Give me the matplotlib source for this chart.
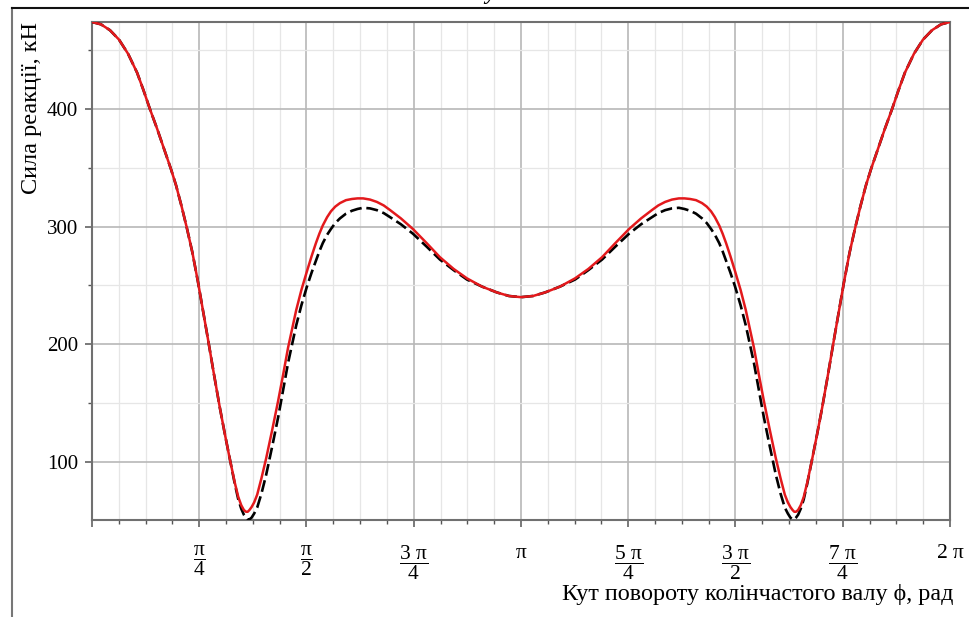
import numpy as np
import matplotlib
matplotlib.use("Agg")
import matplotlib.pyplot as plt
from matplotlib.ticker import FixedLocator, FixedFormatter
from matplotlib.lines import Line2D

plt.rcParams['font.family'] = ['Liberation Serif', 'DejaVu Serif']
plt.rcParams['mathtext.fontset'] = 'custom'
plt.rcParams['mathtext.rm'] = 'Liberation Serif'
plt.rcParams['mathtext.it'] = 'Liberation Serif'

# angle in units of pi
phi_over_pi = [0.000, 0.021, 0.042, 0.063, 0.084, 0.105, 0.120, 0.135, 0.152, 0.170,
               0.184, 0.196, 0.209, 0.221, 0.234, 0.247, 0.258, 0.270, 0.284, 0.298,
               0.310, 0.322, 0.333, 0.341, 0.348, 0.354, 0.359, 0.363, 0.367, 0.372,
               0.378, 0.385, 0.395, 0.406, 0.420, 0.434, 0.446, 0.457, 0.467, 0.476,
               0.488, 0.501, 0.512, 0.522, 0.530, 0.538, 0.548, 0.557, 0.567, 0.578,
               0.592, 0.606, 0.619, 0.632, 0.648, 0.664, 0.680, 0.695, 0.720, 0.748,
               0.780, 0.811, 0.843, 0.874, 0.909, 0.944, 0.972, 1.000,
               1.028, 1.056, 1.091, 1.126, 1.157, 1.189, 1.220, 1.252, 1.280, 1.305,
               1.320, 1.336, 1.352, 1.368, 1.381, 1.394, 1.408, 1.422, 1.433, 1.443,
               1.452, 1.462, 1.470, 1.478, 1.488, 1.499, 1.512, 1.524, 1.533, 1.543,
               1.554, 1.566, 1.580, 1.594, 1.605, 1.615, 1.622, 1.628, 1.633, 1.637,
               1.641, 1.646, 1.652, 1.659, 1.667, 1.678, 1.690, 1.702, 1.716, 1.730,
               1.742, 1.753, 1.766, 1.779, 1.791, 1.804, 1.816, 1.830, 1.848, 1.865,
               1.880, 1.895, 1.916, 1.937, 1.958, 1.979, 2.000]

force_red = [474, 472, 467, 459, 447, 431, 416, 400, 383, 364,
             349, 335, 317, 299, 278, 253, 230, 205, 175, 146,
             123, 101, 82, 70, 63, 59, 57.5, 57.5, 59, 61.5,
             65.5, 72, 86, 103, 127, 152, 175, 197, 214, 229,
             246, 262, 275, 286, 294, 301, 308, 313, 317, 320,
             322.5, 323.5, 324, 324, 323, 321, 318, 314, 307, 298,
             286, 274, 264, 256, 249, 244, 241, 240,
             241, 244, 249, 256, 264, 274, 286, 298, 307, 314,
             318, 321, 323, 324, 324, 323.5, 322.5, 320, 317, 313,
             308, 301, 294, 286, 275, 262, 246, 229, 214, 197,
             175, 152, 127, 103, 86, 72, 65.5, 61.5, 59, 57.5,
             57.5, 59, 63, 70, 82, 101, 123, 146, 175, 205,
             230, 253, 278, 299, 317, 335, 349, 364, 383, 400,
             416, 431, 447, 459, 467, 472, 474]

force_black = [474, 472, 467, 459, 447, 431, 416, 400, 383, 364,
               349, 335, 317, 299, 278, 253, 230, 205, 175, 146,
               123, 101, 81, 68, 60, 55, 52.5, 51, 51, 52.5,
               56, 61, 73, 89, 113, 138, 162, 184, 201, 216,
               233, 249, 261, 271, 279, 286, 293, 298, 303, 307,
               311, 313.5, 315, 316, 315.5, 314, 311.5, 308, 302, 294,
               283, 272, 263, 255, 249, 244, 241, 240,
               241, 244, 249, 255, 263, 272, 283, 294, 302, 308,
               311.5, 314, 315.5, 316, 315, 313.5, 311, 307, 303, 298,
               293, 286, 279, 271, 261, 249, 233, 216, 201, 184,
               162, 138, 113, 89, 73, 61, 56, 52.5, 51, 51,
               52.5, 55, 60, 68, 81, 101, 123, 146, 175, 205,
               230, 253, 278, 299, 317, 335, 349, 364, 383, 400,
               416, 431, 447, 459, 467, 472, 474]

x_tick_labels = ['', r'$\dfrac{\mathrm{π}}{\mathrm{4}}$', r'$\dfrac{\mathrm{π}}{\mathrm{2}}$',
                 r'$\dfrac{\mathrm{3\ π}}{\mathrm{4}}$', r'$\mathrm{π}$',
                 r'$\dfrac{\mathrm{5\ π}}{\mathrm{4}}$', r'$\dfrac{\mathrm{3\ π}}{\mathrm{2}}$',
                 r'$\dfrac{\mathrm{7\ π}}{\mathrm{4}}$', r'$\mathrm{2\ π}$']
y_ticks = [100, 200, 300, 400]

x = np.array(phi_over_pi) * np.pi

fig = plt.figure(figsize=(9.7, 6.17), dpi=100)
ax = fig.add_axes([92/970, 1-520/617, 858/970, 498/617])

ax.plot(x, force_black, color='black', lw=1.9, dashes=(4.5, 1.8), zorder=3)
ax.plot(x, force_red, color='#e3191c', lw=1.8, zorder=4)

ax.set_xlim(0, 2*np.pi)
ax.set_ylim(50.5, 474)

ax.xaxis.set_major_locator(FixedLocator([k*np.pi/4 for k in range(9)]))
ax.xaxis.set_major_formatter(FixedFormatter(x_tick_labels))
ax.xaxis.set_minor_locator(FixedLocator([k*np.pi/16 for k in range(33)]))
ax.yaxis.set_major_locator(FixedLocator(y_ticks))
ax.yaxis.set_minor_locator(FixedLocator(list(range(50, 476, 50))))

ax.grid(which='major', color='#b8b8b8', lw=1.2)
ax.grid(which='minor', color='#e6e6e6', lw=0.9)
ax.set_axisbelow(True)

ax.tick_params(axis='x', which='major', length=5, width=1.1, color='#555555', pad=12, labelsize=15.5)
ax.tick_params(axis='x', which='minor', length=3, width=1.0, color='#555555')
ax.tick_params(axis='y', which='major', length=5, width=1.1, color='#555555', pad=5, labelsize=15)
ax.tick_params(axis='y', which='minor', length=3, width=1.0, color='#555555')

for s in ax.spines.values():
    s.set_color('#707070')
    s.set_linewidth(1.5)

fig.text(32/970, 1-22/617, 'Сила реакції, кН', rotation=90, ha='center', va='top', fontsize=17.5)
fig.text(953/970, 1-600/617, 'Кут повороту колінчастого валу ϕ, рад', ha='right', va='baseline', fontsize=17.4)
fig.text(490/970, 1+1/617, 'у', ha='center', va='baseline', fontsize=16, fontweight='bold', style='italic')

fig.add_artist(Line2D([12/970, 12/970], [0, 1-8/617], transform=fig.transFigure, color='#777777', lw=1.5))
fig.add_artist(Line2D([12/970, 1], [1-8/617, 1-8/617], transform=fig.transFigure, color='#111111', lw=1.5))

fig.savefig('out.png', dpi=100)
